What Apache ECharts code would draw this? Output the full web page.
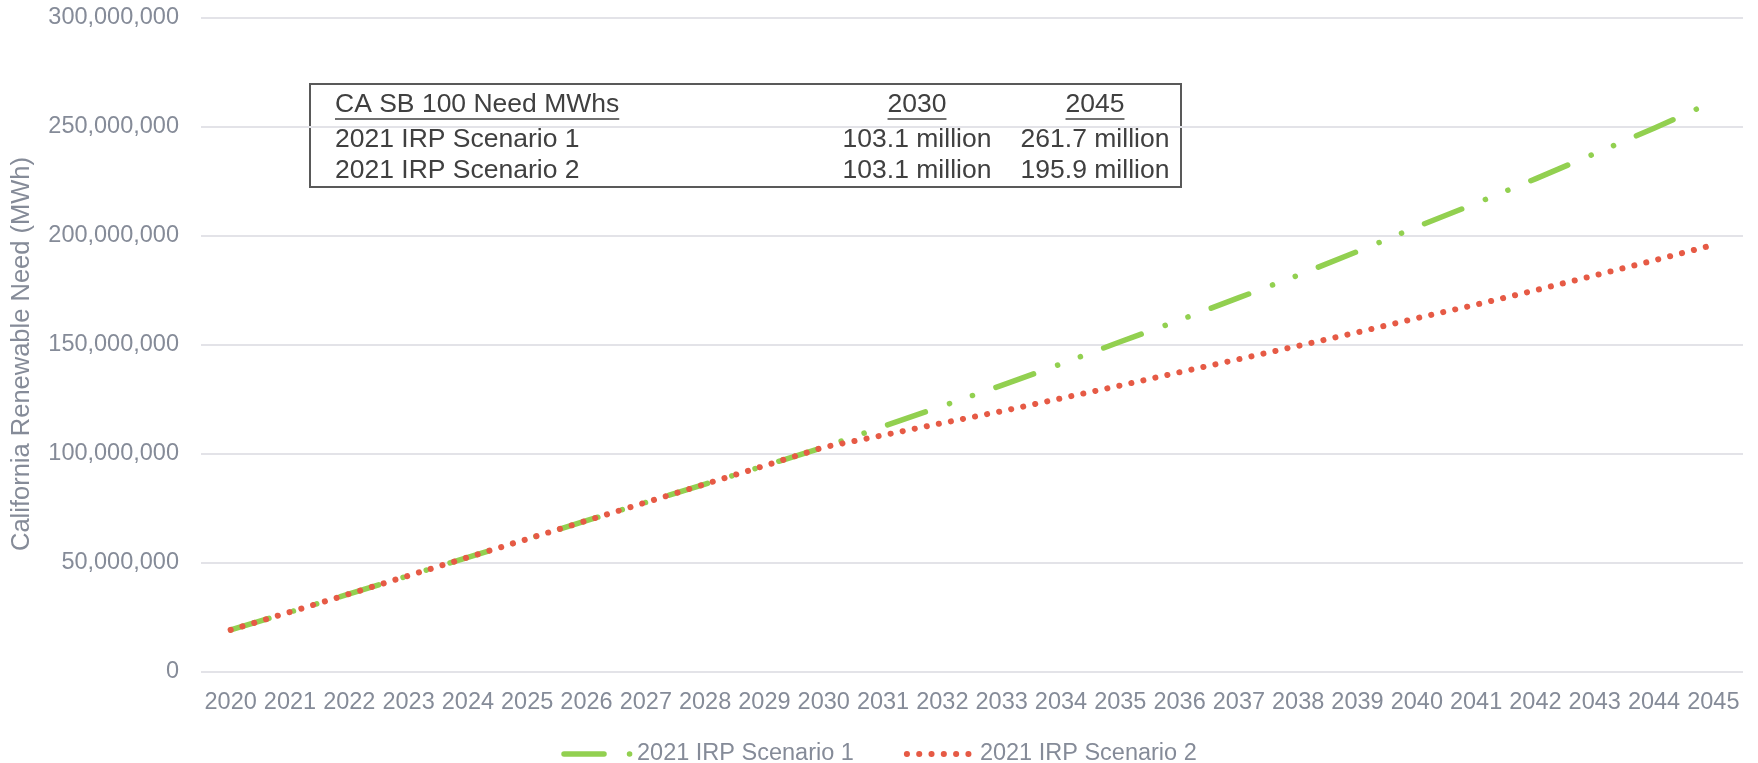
<!DOCTYPE html>
<html>
<head>
<meta charset="utf-8">
<script src="https://cdn.jsdelivr.net/npm/echarts@6/dist/echarts.min.js"></script>
<style>
html,body{margin:0;padding:0;background:#fff;}
#chart{width:1758px;height:763px;}
</style>
</head>
<body>
<div id="chart"></div>
<script>
const years = ['2020','2021','2022','2023','2024','2025','2026','2027','2028','2029','2030','2031','2032','2033','2034','2035','2036','2037','2038','2039','2040','2041','2042','2043','2044','2045'];
const scenario1 = [19300000,27500000,35800000,44200000,52600000,61000000,69400000,77800000,86200000,94600000,103100000,112600000,122000000,131500000,141300000,151500000,161400000,171700000,182000000,192900000,204200000,215000000,226200000,237800000,249400000,261700000];
const scenario2 = [19300000,27500000,35800000,44200000,52600000,61000000,69400000,77800000,86200000,94600000,103100000,108600000,114200000,119600000,125500000,131400000,137500000,143500000,149600000,155800000,162300000,168500000,175100000,181900000,188800000,195900000];
const seriesNames = ['2021 IRP Scenario 1','2021 IRP Scenario 2'];
const yAxisName = 'California Renewable Need (MWh)';
const tableHeader = ['CA SB 100 Need MWhs','2030','2045'];
const tableRows = [
  ['2021 IRP Scenario 1','103.1 million','261.7 million'],
  ['2021 IRP Scenario 2','103.1 million','195.9 million']
];

const FONT = '"Liberation Sans", Arial, Helvetica, sans-serif';
const axisColor = '#858B98';
const tableColor = '#404040';
const tableFontSize = 26.5;
const green = '#92D050';
const red = '#E65A45';
const greenDash = [40,25.5,0.1,24.2,0.1,24.8];
const redDash = [0.1,12.2];

const chart = echarts.init(document.getElementById('chart'), null, {renderer:'canvas'});

const mctx = document.createElement('canvas').getContext('2d');
mctx.font = tableFontSize + 'px ' + FONT;
function tw(s){ return mctx.measureText(s).width; }

const box = {x:310, y:84, w:871, h:103};
const colX = [335, 917, 1095];
const rowY = [105, 140, 171];
const tableChildren = [{
  type:'rect', shape:{x:box.x, y:box.y, width:box.w, height:box.h},
  style:{fill:'#fff', stroke:'#595959', lineWidth:2}
}];
const allRows = [tableHeader].concat(tableRows);
allRows.forEach((row, r) => {
  row.forEach((cell, c) => {
    tableChildren.push({
      type:'text', x:colX[c], y:rowY[r],
      style:{text:cell, fill:tableColor, font: tableFontSize + 'px ' + FONT,
             align: c === 0 ? 'left' : 'center', verticalAlign:'middle'}
    });
    if (r === 0) {
      const w = tw(cell);
      const x0 = c === 0 ? colX[c] : colX[c] - w/2;
      tableChildren.push({
        type:'line', shape:{x1:x0, y1:rowY[0]+14, x2:x0+w, y2:rowY[0]+14},
        style:{stroke:tableColor, lineWidth:1.5}
      });
    }
  });
});

const option = {
  animation:false,
  backgroundColor:'#fff',
  grid:{left:201, right:15, top:18, bottom:91, containLabel:false},
  legend:{
    top:737, left:'center',
    itemWidth:68, itemHeight:10, itemGap:50,
    textStyle:{color:axisColor, fontSize:23.5, fontFamily:FONT},
    itemStyle:{color:'rgba(0,0,0,0)', borderWidth:0},
    data:[
      {name:seriesNames[0], lineStyle:{width:5.5, cap:'round'}, itemStyle:{color:'rgba(0,0,0,0)', borderWidth:0}},
      {name:seriesNames[1], lineStyle:{width:6, cap:'round'}, itemStyle:{color:'rgba(0,0,0,0)', borderWidth:0}}
    ]
  },
  xAxis:{
    type:'category', data:years, boundaryGap:true,
    axisLine:{show:false}, axisTick:{show:false},
    axisLabel:{interval:0, color:axisColor, fontSize:23.5, fontFamily:FONT, margin:19}
  },
  yAxis:{
    type:'value', min:0, max:300000000, interval:50000000,
    name:yAxisName, nameLocation:'middle', nameGap:166, nameRotate:90,
    nameTextStyle:{color:axisColor, fontSize:25.5, fontFamily:FONT, padding:[0,18,0,0]},
    axisLine:{show:false}, axisTick:{show:false},
    splitLine:{lineStyle:{color:'#E3E3E8', width:2}},
    axisLabel:{color:axisColor, fontSize:23.5, fontFamily:FONT, margin:22,
      formatter:v => v.toLocaleString('en-US')}
  },
  series:[
    {
      name:seriesNames[0], type:'line', data:scenario1,
      showSymbol:false, symbol:'none',
      itemStyle:{color:green},
      lineStyle:{color:green, width:5.5, type:greenDash, cap:'round', join:'round'}
    },
    {
      name:seriesNames[1], type:'line', data:scenario2,
      showSymbol:false, symbol:'none',
      itemStyle:{color:red},
      lineStyle:{color:red, width:6, type:redDash, cap:'round', join:'round'}
    }
  ],
  graphic:[{type:'group', children:tableChildren, z:100}]
};
chart.setOption(option);
</script>
</body>
</html>
